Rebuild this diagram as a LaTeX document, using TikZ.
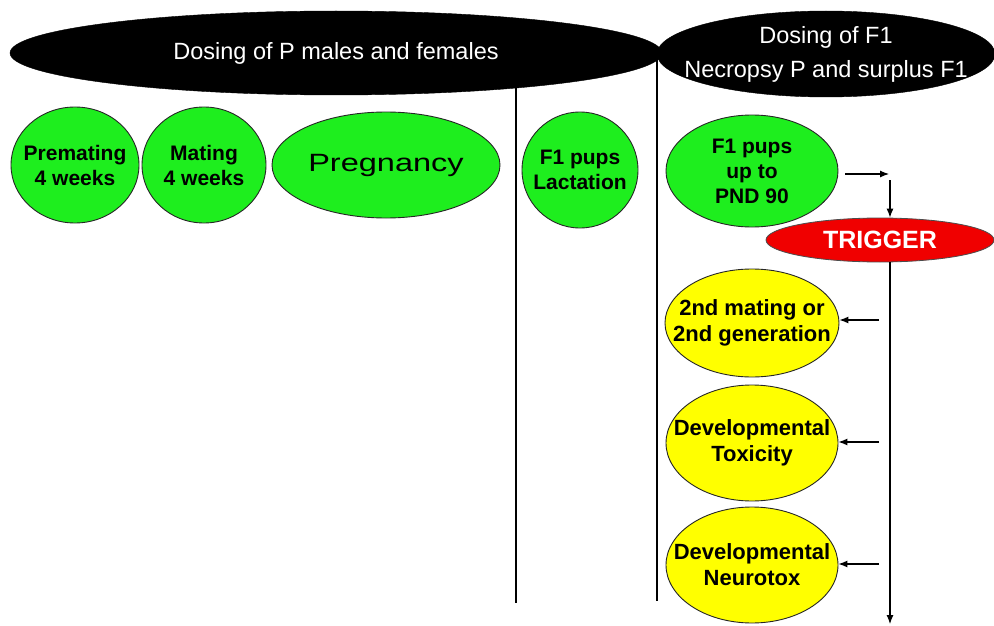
\documentclass[tikz,border=0pt]{standalone}
\usepackage{fontspec}
\setmainfont{Liberation Sans}
\usetikzlibrary{shapes.geometric,arrows.meta}
\definecolor{gr}{RGB}{30,238,30}
\definecolor{yl}{RGB}{255,255,0}
\definecolor{rd}{RGB}{240,0,0}
\tikzset{
  oval/.style={ellipse, draw=black!85, line width=0.9pt, inner sep=0pt},
  btxt/.style={align=center, font=\fontsize{21}{25}\selectfont\bfseries, text=black},
  ytxt/.style={align=center, font=\fontsize{22}{26}\selectfont\bfseries, text=black},
  greenoval/.style={oval, fill=gr},
  yellowoval/.style={oval, fill=yl},
  blackoval/.style={ellipse, fill=black, draw=black, inner sep=0pt},
  wtxt/.style={align=center, text=white, font=\fontsize{23.5}{34}\selectfont},
  divider/.style={line width=2.4pt},
  arr/.style={line width=1.1pt, -{Latex[length=9pt,width=7pt]}}
}
\begin{document}
\begin{tikzpicture}[x=1pt,y=-1pt]
\useasboundingbox (0,0) rectangle (994,626);
\fill[white] (0,0) rectangle (994,626);
% top black ovals
\node[blackoval, minimum width=652, minimum height=84, label={[wtxt]center:Dosing of P males and females}] (top1) at (336,53) {};
\node[blackoval, minimum width=338, minimum height=86, label={[wtxt]center:Dosing of F1\\Necropsy P and surplus F1}] (top2) at (826,54) {};
% dividers
\coordinate (d1t) at (516,88);
\coordinate (d1b) at (516,603);
\coordinate (d2t) at (657,55);
\coordinate (d2b) at (657,601);
\draw[divider] (d1t) -- (d1b);
\draw[line width=1.3pt] (d2t) -- (d2b);
% green ovals
\node[greenoval, minimum width=128, minimum height=116, label={[btxt]center:Premating\\4 weeks}] (prem) at (75,165) {};
\node[greenoval, minimum width=124, minimum height=116, label={[btxt]center:Mating\\4 weeks}] (mat) at (204,165) {};
\node[greenoval, minimum width=228, minimum height=106, label={[btxt, font=\fontsize{25}{30}\selectfont]center:\scalebox{1.3}[1]{Pregnancy}}] (preg) at (386,165) {};
\node[greenoval, minimum width=116, minimum height=116, label={[btxt]center:F1 pups\\Lactation}] (lact) at (580,170) {};
\node[greenoval, minimum width=172, minimum height=112, label={[btxt]center:F1 pups\\up to\\PND 90}] (pnd) at (752,171) {};
% trigger
\node[ellipse, fill=rd, draw=black!70, line width=0.8pt, inner sep=0pt, minimum width=228, minimum height=44, label={[text=white, font=\fontsize{25}{30}\selectfont\bfseries]center:TRIGGER}] (trig) at (880,240) {};
% yellow ovals
\node[yellowoval, minimum width=174, minimum height=108, label={[ytxt]center:2nd mating or\\2nd generation}] (gen2) at (752,323) {};
\node[yellowoval, minimum width=172, minimum height=116, label={[ytxt]center:Developmental\\Toxicity}] (devtox) at (752,443) {};
\node[yellowoval, minimum width=172, minimum height=116, label={[ytxt]center:Developmental\\Neurotox}] (devneu) at (752,565) {};
% arrows
\coordinate (a1s) at (845,174);
\coordinate (a1e) at (889,174);
\coordinate (a2s) at (890,180);
\draw[arr] (a1s) -- (a1e);
\draw[arr] (a2s) -- (a2s |- trig.north);
\coordinate (vt) at (890,262);
\coordinate (vb) at (890,624);
\draw[arr] (vt) -- (vb);
\coordinate (g1) at (879,320);
\coordinate (g2) at (879,442);
\coordinate (g3) at (879,564);
\draw[arr] (g1) -- (g1 -| gen2.east);
\draw[arr] (g2) -- (g2 -| devtox.east);
\draw[arr] (g3) -- (g3 -| devneu.east);
\end{tikzpicture}
\end{document}
